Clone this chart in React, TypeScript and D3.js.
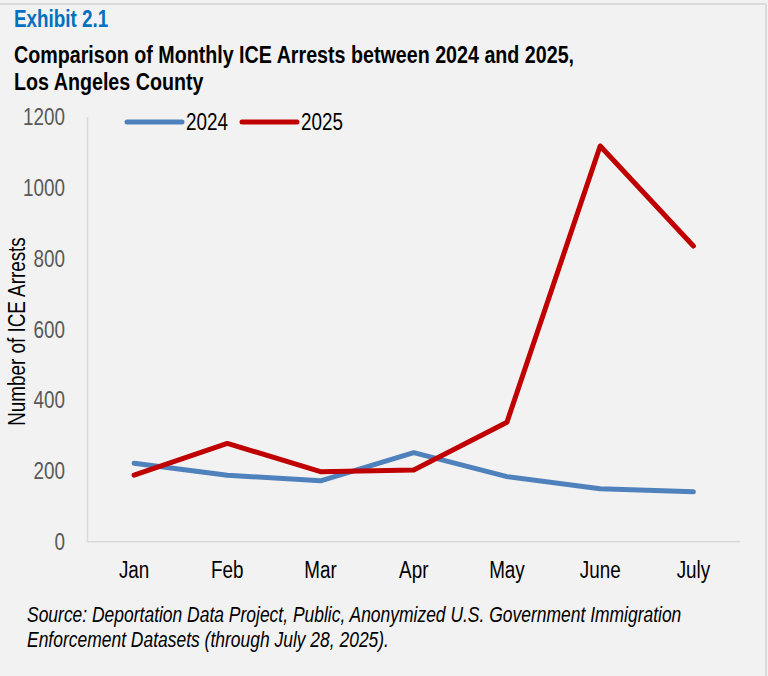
import React from "react";
import * as d3 from "d3";

const months = ["Jan", "Feb", "Mar", "Apr", "May", "June", "July"];
const arrests2024 = [222, 188, 172, 252, 184, 150, 141];
const arrests2025 = [188, 278, 198, 203, 338, 1119, 836];
const yTicks = [0, 200, 400, 600, 800, 1000, 1200];
const seriesNames = ["2024", "2025"];
const seriesColors = ["#4f81bd", "#c00000"];

const W = 768;
const H = 676;
const FONT = "'Liberation Sans', Arial, sans-serif";
const NARROW = 0.82;

function NText({
  x,
  y,
  rotate = 0,
  children,
  ...rest
}: {
  x: number;
  y: number;
  rotate?: number;
  children: React.ReactNode;
  [k: string]: any;
}) {
  return (
    <text
      transform={`translate(${x},${y})${rotate ? ` rotate(${rotate})` : ""} scale(${NARROW},1)`}
      {...rest}
    >
      {children}
    </text>
  );
}

export default function App() {
  const left = 87.5;
  const right = 740;
  const top = 117.3;
  const bottom = 541.7;
  const x = d3.scaleBand<string>().domain(months).range([left, right]);
  const y = d3.scaleLinear().domain([0, 1200]).range([bottom, top]);
  const cx = (m: string) => (x(m) as number) + x.bandwidth() / 2;
  const line = d3
    .line<number>()
    .x((_, i) => cx(months[i]))
    .y((d) => y(d));
  const series = [arrests2024, arrests2025];
  const legendX = [127, 242];

  return (
    <svg
      width={W}
      height={H}
      style={{ position: "absolute", left: 0, top: 0 }}
      fontFamily={FONT}
    >
      <rect x={0} y={0} width={W} height={H} fill="#f2f2f2" />
      <line x1={0} x2={766} y1={4} y2={4} stroke="#dadada" strokeWidth={2} />
      <line x1={766} x2={766} y1={4} y2={H} stroke="#dadada" strokeWidth={2} />

      <NText x={14} y={27} fill="#0070c0" fontWeight="bold" fontSize={23}>
        Exhibit 2.1
      </NText>
      <NText x={14} y={63} fill="#000" fontWeight="bold" fontSize={24}>
        Comparison of Monthly ICE Arrests between 2024 and 2025,
      </NText>
      <NText x={14} y={90} fill="#000" fontWeight="bold" fontSize={24}>
        Los Angeles County
      </NText>

      {/* axes */}
      <line x1={left} x2={left} y1={top} y2={bottom} stroke="#d9d9d9" strokeWidth={1.5} />
      <line x1={left} x2={right} y1={bottom} y2={bottom} stroke="#d9d9d9" strokeWidth={1.5} />

      {yTicks.map((t) => (
        <NText
          key={t}
          x={65}
          y={y(t)}
          dy="0.35em"
          textAnchor="end"
          fill="#595959"
          fontSize={23}
        >
          {t}
        </NText>
      ))}

      {months.map((m) => (
        <NText key={m} x={cx(m)} y={578} textAnchor="middle" fill="#000" fontSize={23}>
          {m}
        </NText>
      ))}

      <NText
        x={25}
        y={(top + bottom) / 2 + 2}
        rotate={-90}
        textAnchor="middle"
        fill="#000"
        fontSize={23}
      >
        Number of ICE Arrests
      </NText>

      {series.map((s, i) => (
        <path
          key={i}
          d={line(s) as string}
          fill="none"
          stroke={seriesColors[i]}
          strokeWidth={5}
          strokeLinejoin="round"
          strokeLinecap="round"
        />
      ))}

      {seriesNames.map((n, i) => (
        <g key={n}>
          <line
            x1={legendX[i]}
            x2={legendX[i] + 55}
            y1={122}
            y2={122}
            stroke={seriesColors[i]}
            strokeWidth={5}
            strokeLinecap="round"
          />
          <NText x={legendX[i] + 59} y={122} dy="0.35em" fill="#000" fontSize={23}>
            {n}
          </NText>
        </g>
      ))}

      <NText x={27} y={622} fontStyle="italic" fontSize={21.3} fill="#000">
        Source: Deportation Data Project, Public, Anonymized U.S. Government Immigration
      </NText>
      <NText x={27} y={647} fontStyle="italic" fontSize={21.3} fill="#000">
        Enforcement Datasets (through July 28, 2025).
      </NText>
    </svg>
  );
}
